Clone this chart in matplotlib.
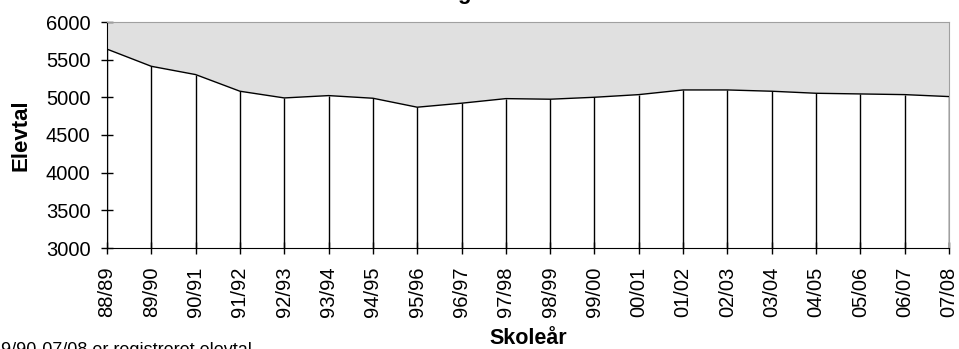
import matplotlib
matplotlib.use("Agg")
import matplotlib.pyplot as plt

# skoleaar og elevtal
years = ['88/89', '89/90', '90/91', '91/92', '92/93', '93/94', '94/95', '95/96', '96/97', '97/98',
         '98/99', '99/00', '00/01', '01/02', '02/03', '03/04', '04/05', '05/06', '06/07', '07/08']
elevtal = [5640, 5412, 5302, 5081, 4992, 5023, 4988, 4869, 4922, 4983,
           4975, 5001, 5036, 5098, 5098, 5081, 5054, 5045, 5036, 5010]
yticks = [3000, 3500, 4000, 4500, 5000, 5500, 6000]

plt.rcParams['font.family'] = ['Liberation Sans', 'DejaVu Sans']

fig = plt.figure(figsize=(9.59, 3.49), dpi=100)
ax = fig.add_axes([107/959, 101/349, 842/959, 226/349])

x = list(range(len(years)))
ax.set_facecolor('#e0e0e0')
ax.fill_between(x, elevtal, 3000, color='white', zorder=1)
ax.plot(x, elevtal, color='black', lw=1, zorder=3)
ax.vlines(x, 3000, elevtal, color='black', lw=1, zorder=3)

ax.set_xlim(0, len(years) - 1)
ax.set_ylim(3000, 6000)
ax.set_yticks(yticks)
ax.set_xticks(x)
ax.set_xticklabels(years, rotation=90)
ax.tick_params(axis='both', direction='inout', length=8, width=1, labelsize=14.5)
ax.tick_params(axis='y', pad=8)
ax.tick_params(axis='x', pad=9.5)

for s in ['top', 'right']:
    ax.spines[s].set_color('#a0a0a0')
for s in ['left', 'bottom']:
    ax.spines[s].set_color('black')

ax.set_ylabel('Elevtal', fontsize=16, fontweight='bold', labelpad=10)
ax.set_xlabel('Skoleår', fontsize=15.5, fontweight='bold', labelpad=8)

fig.text(0.5, 1 + 1/349, 'Elevtal i grundskolen', ha='center', va='baseline',
         fontsize=16, fontweight='bold')
fig.text(-9/959, -6/349, '89/90-07/08 er registreret elevtal', ha='left', va='baseline',
         fontsize=13)

fig.savefig('out.png', dpi=100)
